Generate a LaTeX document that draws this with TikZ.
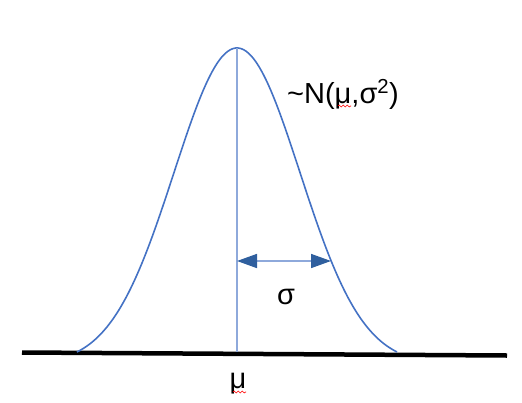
\documentclass[tikz,border=0pt]{standalone}
\usepackage{fontspec}
\setmainfont{Liberation Sans}
\usetikzlibrary{arrows.meta,decorations.pathmorphing}
\definecolor{curveblue}{HTML}{4472C4}
\definecolor{lineblue}{HTML}{8EA9DB}
\definecolor{tipblue}{HTML}{2F5F9E}
\tikzset{
  curve/.style={curveblue, line width=1.6pt},
  meanline/.style={lineblue, line width=1.2pt},
  sigarrow/.style={lineblue, line width=1.6pt,
    {Triangle[length=20pt,width=14pt,color=tipblue]}-{Triangle[length=20pt,width=14pt,color=tipblue]}},
  lbl/.style={inner sep=0pt, font=\fontsize{29}{32}\selectfont},
  squig/.style={red, line width=0.6pt, decorate, decoration={snake, amplitude=1pt, segment length=4pt}}
}
\begin{document}
\begin{tikzpicture}[x=1pt,y=-1pt]
\useasboundingbox (0,0) rectangle (522,402);
% axis
\coordinate (axL) at (22,352.5);
\coordinate (axR) at (507,355.5);
\draw[line width=4.5pt] (axL) -- (axR);
% bell curve
\coordinate (peak) at (237,48);
\coordinate (base) at (237,352);
\draw[curve, domain=-2.54:2.54, samples=120, smooth]
  plot ({237+63*\x}, {352-304*(exp(-(\x*\x)/2)-0.0397)/(1-0.0397)});
\draw[meanline] (peak) -- (base);
% sigma arrow
\coordinate (sA) at (237,261);
\coordinate (sB) at (331,261);
\draw[sigarrow] (sA) -- (sB);
% labels
\node[lbl] (sig) at (286,297) {σ};
\node[lbl, anchor=base west] (dist) at (287,103) {\textasciitilde N(μ,σ\textsuperscript{2})};
\node[lbl, anchor=base] (mu) at (238,388) {μ};
\draw[squig] ([xshift=-5pt,yshift=-4pt]mu.base) -- ++(13,0);
\coordinate (dmu) at (338,106);
\draw[squig] (dmu) -- ++(13,0);
\end{tikzpicture}
\end{document}
